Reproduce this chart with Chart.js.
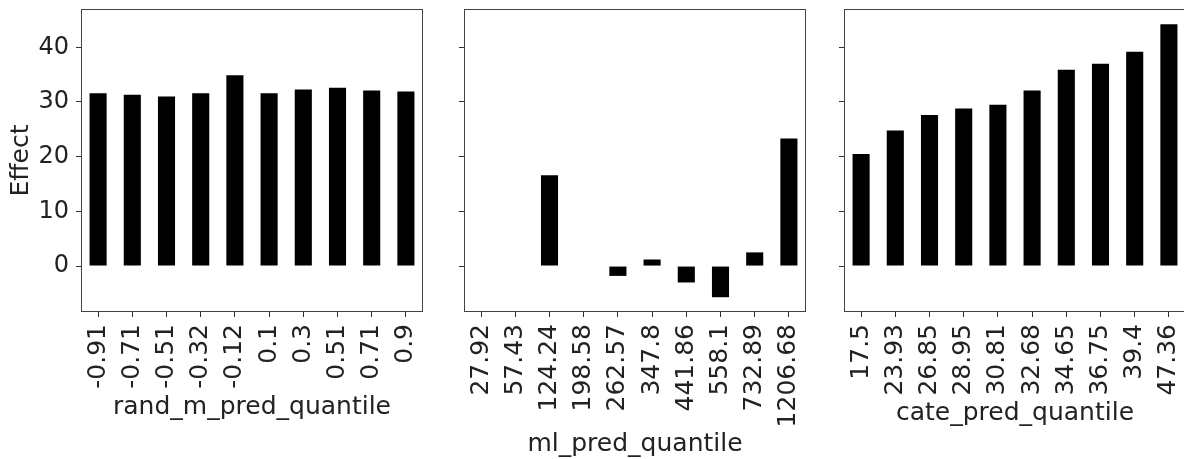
<!DOCTYPE html>
<html>
<head>
<meta charset="utf-8">
<script src="https://cdn.jsdelivr.net/npm/chart.js@4.4.1/dist/chart.umd.min.js"></script>
<style>
    html, body { margin: 0; padding: 0; background: #fff; overflow: hidden; }
    #wrap { position: relative; width: 1184px; height: 459px; overflow: hidden; }
    canvas { position: absolute; }
</style>
</head>
<body>
<div id="wrap">
    <!-- all canvases end at the page bottom; they start 13px above it so the tick label padding fits -->
    <canvas id="chart1" width="463" height="472" style="left:0px;top:-13px"></canvas>
    <canvas id="chart2" width="422" height="472" style="left:424px;top:-13px"></canvas>
    <canvas id="chart3" width="422" height="472" style="left:804px;top:-13px"></canvas>
</div>
<script>
// tick labels (quantile cut points) for each panel
var rand_labels = ['-0.91', '-0.71', '-0.51', '-0.32', '-0.12', '0.1', '0.3', '0.51', '0.71', '0.9'];
var ml_labels = ['27.92', '57.43', '124.24', '198.58', '262.57', '347.8', '441.86', '558.1', '732.89', '1206.68'];
var cate_labels = ['17.5', '23.93', '26.85', '28.95', '30.81', '32.68', '34.65', '36.75', '39.4', '47.36'];

// effect per quantile
var rand_effect = [31.6, 31.3, 31.0, 31.6, 34.9, 31.6, 32.3, 32.6, 32.1, 31.9];
var ml_effect = [0, 0, 16.6, 0, -1.8, 1.2, -3.0, -5.7, 2.5, 23.3];
var cate_effect = [20.5, 24.8, 27.6, 28.8, 29.5, 32.1, 35.9, 37.0, 39.2, 44.2];

// shared y range
var y_min = -8.4;
var y_max = 47;

Chart.defaults.font.family = "'DejaVu Sans', sans-serif";
Chart.defaults.font.size = 24;
Chart.defaults.color = '#222';

// matplotlib style box round the axes
var frame = {
    id: 'frame',
    afterDraw: function(chart) {
        var a = chart.chartArea;
        var ctx = chart.ctx;
        ctx.save();
        ctx.strokeStyle = '#444';
        ctx.lineWidth = 1;
        ctx.strokeRect(Math.round(a.left) + 0.5, Math.round(a.top) + 0.5,
            Math.round(a.right - a.left) - 1, Math.round(a.bottom - a.top) - 1);
        ctx.restore();
    }
};

function make_panel(id, labels, values, title, title_pad, y_width, show_y) {
    return new Chart(document.getElementById(id), {
        type: 'bar',
        data: {
            labels: labels,
            datasets: [{
                data: values,
                backgroundColor: '#000',
                borderWidth: 0,
                categoryPercentage: 1.0,
                barPercentage: 0.5
            }]
        },
        options: {
            responsive: false,
            animation: false,
            layout: { padding: { top: 22, right: 40, bottom: 0, left: 0 } },
            plugins: { legend: { display: false }, tooltip: { enabled: false } },
            scales: {
                x: {
                    grid: { offset: false, drawOnChartArea: false, drawTicks: true, tickLength: 5, color: '#333' },
                    border: { display: false },
                    ticks: { autoSkip: false, minRotation: 90, maxRotation: 90, padding: 7, color: '#222', font: { size: 25 } },
                    title: { display: true, text: title, color: '#222', font: { size: 25 }, padding: { top: 0, bottom: title_pad } },
                    afterFit: function(scale) { scale.height = 147; }
                },
                y: {
                    min: y_min,
                    max: y_max,
                    grid: { drawOnChartArea: false, drawTicks: true, tickLength: 5, color: '#333' },
                    border: { display: false },
                    ticks: { stepSize: 10, includeBounds: false, display: show_y, padding: 7, color: '#222' },
                    title: { display: show_y, text: 'Effect', color: '#222', font: { size: 25 }, padding: { top: 6, bottom: 0 } },
                    afterFit: function(scale) { scale.width = y_width; }
                }
            }
        },
        plugins: [frame]
    });
}

make_panel('chart1', rand_labels, rand_effect, 'rand_m_pred_quantile', 37, 81, true);
make_panel('chart2', ml_labels, ml_effect, 'ml_pred_quantile', 0, 40, false);
make_panel('chart3', cate_labels, cate_effect, 'cate_pred_quantile', 31, 40, false);
</script>
</body>
</html>
